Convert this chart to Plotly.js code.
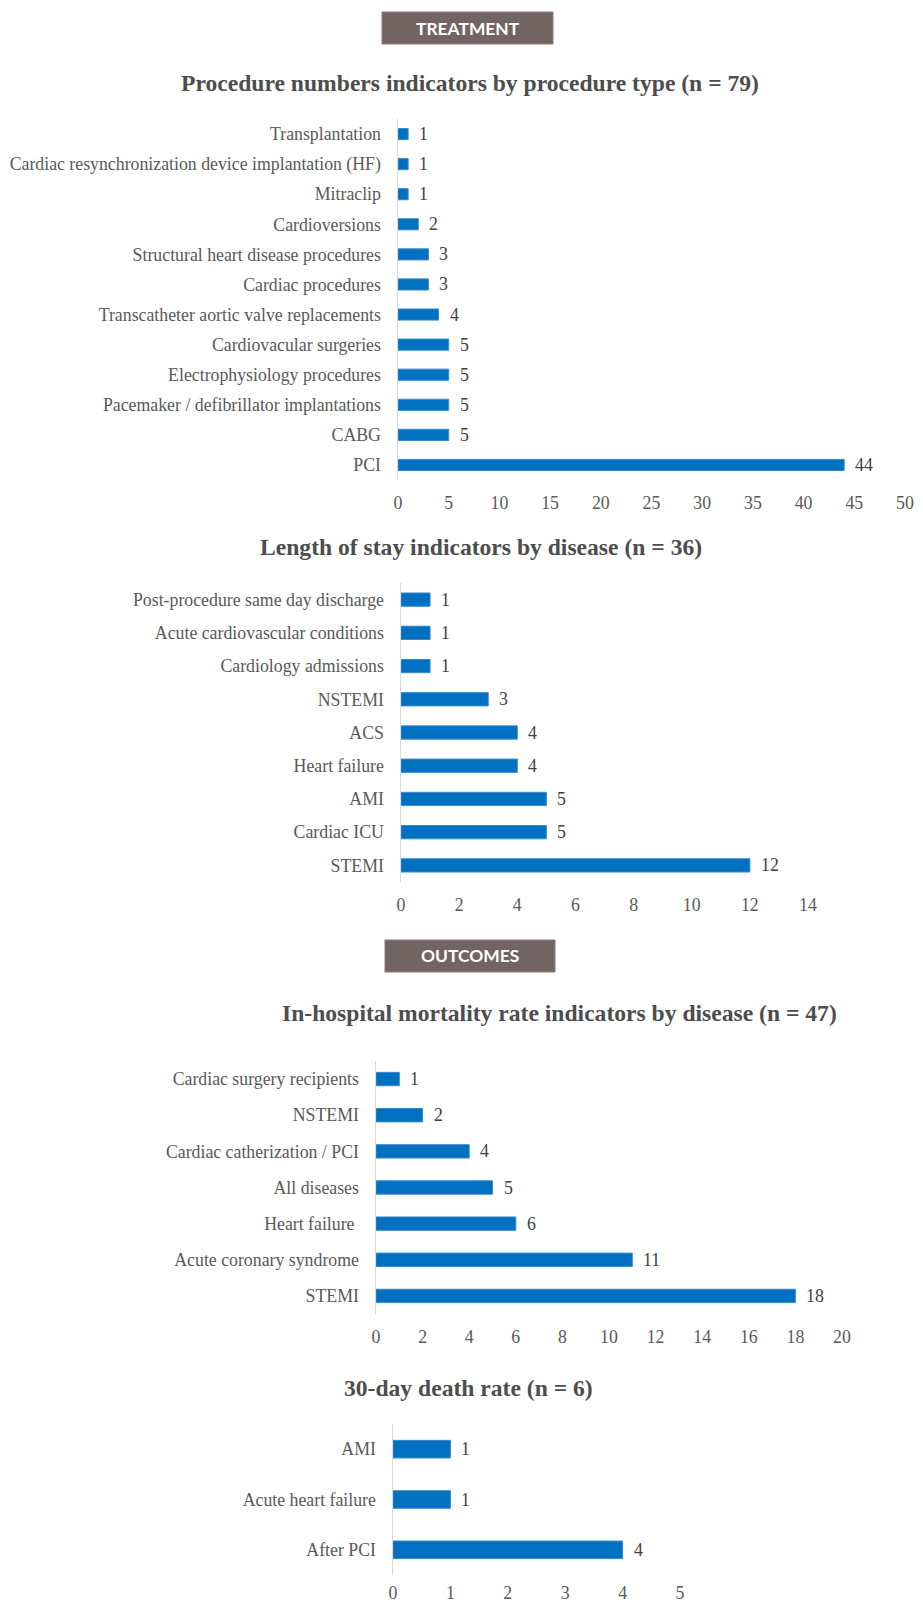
<!DOCTYPE html>
<html>
<head>
<meta charset="utf-8">
<script src="https://cdn.plot.ly/plotly-3.0.1.min.js"></script>
<style>html,body{margin:0;padding:0;background:#fff;}#chart{width:923px;height:1604px;}</style>
</head>
<body>
<div id="chart"></div>
<script>
// ---- data ----
const procCats = ['Transplantation','Cardiac resynchronization device implantation (HF)','Mitraclip','Cardioversions','Structural heart disease procedures','Cardiac procedures','Transcatheter aortic valve replacements','Cardiovacular surgeries','Electrophysiology procedures','Pacemaker / defibrillator implantations','CABG','PCI'];
const procVals = [1,1,1,2,3,3,4,5,5,5,5,44];

const losCats = ['Post-procedure same day discharge','Acute cardiovascular conditions','Cardiology admissions','NSTEMI','ACS','Heart failure','AMI','Cardiac ICU','STEMI'];
const losVals = [1,1,1,3,4,4,5,5,12];

const mortCats = ['Cardiac surgery recipients','NSTEMI','Cardiac catherization / PCI','All diseases','Heart failure\u00a0','Acute coronary syndrome','STEMI'];
const mortVals = [1,2,4,5,6,11,18];

const deathCats = ['AMI','Acute heart failure','After PCI'];
const deathVals = [1,1,4];

const titles = ['Procedure numbers indicators by procedure type (n = 79)','Length of stay indicators by disease (n = 36)','In-hospital mortality rate indicators by disease (n = 47)','30-day death rate (n = 6)'];
const sections = ['TREATMENT','OUTCOMES'];

// ---- layout helpers ----
const W = 923, H = 1604;
const px = v => v / W;
const py = v => 1 - v / H;
const BLUE = '#0070C0';
const SERIF = 'Liberation Serif, Times New Roman, serif';
const tickFont = {family: SERIF, size: 17.8, color: '#595959'};

const panels = [
  {cats: procCats, vals: procVals, x0: 398, x1: 905, top: 119, bot: 480, range: [0,50], dtick: 5, width: 0.37, standoff: 10},
  {cats: losCats, vals: losVals, x0: 401, x1: 808, top: 583, bot: 882, range: [0,14], dtick: 2, width: 0.4, standoff: 10},
  {cats: mortCats, vals: mortVals, x0: 376, x1: 842, top: 1061, bot: 1314, range: [0,20], dtick: 2, width: 0.37, standoff: 10},
  {cats: deathCats, vals: deathVals, x0: 393, x1: 680, top: 1424, bot: 1575, range: [0,5], dtick: 1, width: 0.35, standoff: 5}
];
const titlePos = [[470,83],[481,547],[559,1013],[468,1388]];
const boxes = [[382,12,553,44],[385,940,555,972]];

const data = [];
const layout = {
  width: W, height: H, margin: {l:0, r:0, t:0, b:0},
  paper_bgcolor: '#fff', plot_bgcolor: '#fff', showlegend: false,
  annotations: [], shapes: []
};

panels.forEach((p, i) => {
  const s = i === 0 ? '' : String(i + 1);
  data.push({
    type: 'bar', orientation: 'h', x: p.vals, y: p.cats,
    xaxis: 'x' + s, yaxis: 'y' + s, width: p.width,
    marker: {color: BLUE, line: {color: '#3a8ad0', width: 1}},
    hoverinfo: 'none'
  });
  layout['xaxis' + s] = {
    domain: [px(p.x0), px(p.x1)], anchor: 'y' + s, range: p.range, dtick: p.dtick, tick0: 0,
    showgrid: false, zeroline: false, showline: false, ticks: '',
    tickfont: tickFont, ticklabelstandoff: p.standoff, fixedrange: true
  };
  layout['yaxis' + s] = {
    domain: [py(p.bot), py(p.top)], anchor: 'x' + s, autorange: 'reversed', type: 'category',
    showgrid: false, zeroline: false, showline: true, linecolor: '#d9d9d9', linewidth: 1.5, ticks: '',
    tickfont: tickFont, ticklabelstandoff: 12, fixedrange: true
  };
  p.vals.forEach((v, k) => {
    layout.annotations.push({
      x: v, y: p.cats[k], xref: 'x' + s, yref: 'y' + s, text: String(v),
      showarrow: false, xanchor: 'left', yanchor: 'middle', xshift: 9,
      font: {family: SERIF, size: 17.8, color: '#404040'}
    });
  });
});

titles.forEach((t, i) => {
  layout.annotations.push({
    x: px(titlePos[i][0]), y: py(titlePos[i][1]), xref: 'paper', yref: 'paper',
    text: '<b>' + t + '</b>', showarrow: false, xanchor: 'center', yanchor: 'middle',
    font: {family: SERIF, size: 23.6, color: '#4d4d4d'}
  });
});

boxes.forEach((b, i) => {
  layout.shapes.push({
    type: 'rect', xref: 'paper', yref: 'paper',
    x0: px(b[0]), x1: px(b[2]), y0: py(b[3]), y1: py(b[1]),
    fillcolor: '#736464', line: {color: '#8a7d7d', width: 1}, layer: 'above'
  });
  layout.annotations.push({
    x: px((b[0] + b[2]) / 2), y: py((b[1] + b[3]) / 2), xref: 'paper', yref: 'paper',
    text: '<b>' + sections[i] + '</b>', showarrow: false, xanchor: 'center', yanchor: 'middle',
    font: {family: 'Lato, Open Sans, sans-serif', size: 17.4, color: '#ffffff'}
  });
});

Plotly.newPlot('chart', data, layout, {staticPlot: true, displayModeBar: false});
</script>
</body>
</html>
